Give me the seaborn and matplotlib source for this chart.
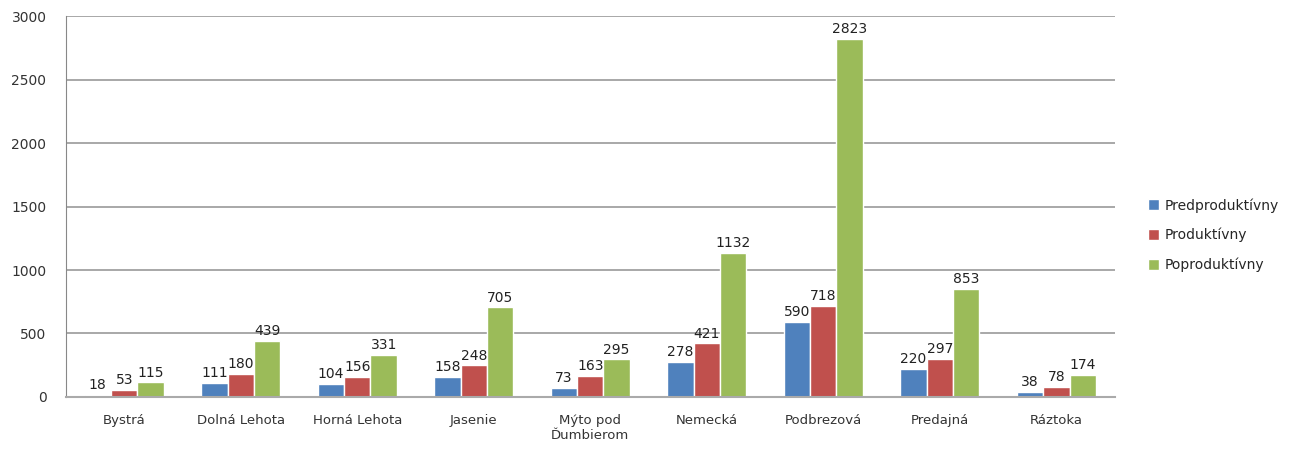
import pandas as pd
import numpy as np
import seaborn as sns
import matplotlib.pyplot as plt

obce = ['Bystrá', 'Dolná Lehota', 'Horná Lehota', 'Jasenie', 'Mýto pod\nĎumbierom',
        'Nemecká', 'Podbrezová', 'Predajná', 'Ráztoka']
predproduktivny = [18, 111, 104, 158, 73, 278, 590, 220, 38]
produktivny = [53, 180, 156, 248, 163, 421, 718, 297, 78]
poproduktivny = [115, 439, 331, 705, 295, 1132, 2823, 853, 174]
skupiny = ['Predproduktívny', 'Produktívny', 'Poproduktívny']
farby = ['#4F81BD', '#C0504D', '#9BBB59']

df = pd.DataFrame({
    'obec': obce * 3,
    'skupina': [skupiny[0]] * 9 + [skupiny[1]] * 9 + [skupiny[2]] * 9,
    'pocet': predproduktivny + produktivny + poproduktivny,
})

sns.set_style('white')
plt.rcParams['font.family'] = ['DejaVu Sans']

fig = plt.figure(figsize=(12.93, 4.5), dpi=100)
ax = fig.add_axes([0.051, 0.118, 0.811, 0.846])
sns.barplot(data=df, x='obec', y='pocet', hue='skupina', palette=farby,
            width=0.68, gap=0, saturation=1, ax=ax, legend=True)

for cont in ax.containers:
    ax.bar_label(cont, fontsize=10, color='#222222', padding=2)

ax.set_ylim(0, 3000)
ax.set_yticks(range(0, 3001, 500))
ax.set_xlim(-0.5, 8.5)
ax.yaxis.grid(True, color='#a8a8a8', linewidth=1.4)
ax.set_axisbelow(True)
ax.set_xlabel('')
ax.set_ylabel('')
sns.despine(ax=ax)
ax.spines['left'].set_color('#888888')
ax.spines['bottom'].set_color('#aaaaaa')
ax.spines['bottom'].set_linewidth(1.5)
ax.tick_params(axis='y', length=0, labelsize=10, colors='#333333', pad=14)
ax.tick_params(axis='x', length=0, labelsize=9.5, colors='#333333', pad=12)
ax.set_xticks(np.arange(-0.5, 9, 1), minor=True)
ax.tick_params(axis='x', which='minor', length=5, color='#888888')

h, l = ax.get_legend_handles_labels()
ax.legend(h, l, loc='center left', bbox_to_anchor=(1.02, 0.425), frameon=False,
          fontsize=10, handlelength=0.8, handleheight=0.8, labelspacing=1.1,
          handletextpad=0.4)

fig.savefig('out.png', dpi=100)
